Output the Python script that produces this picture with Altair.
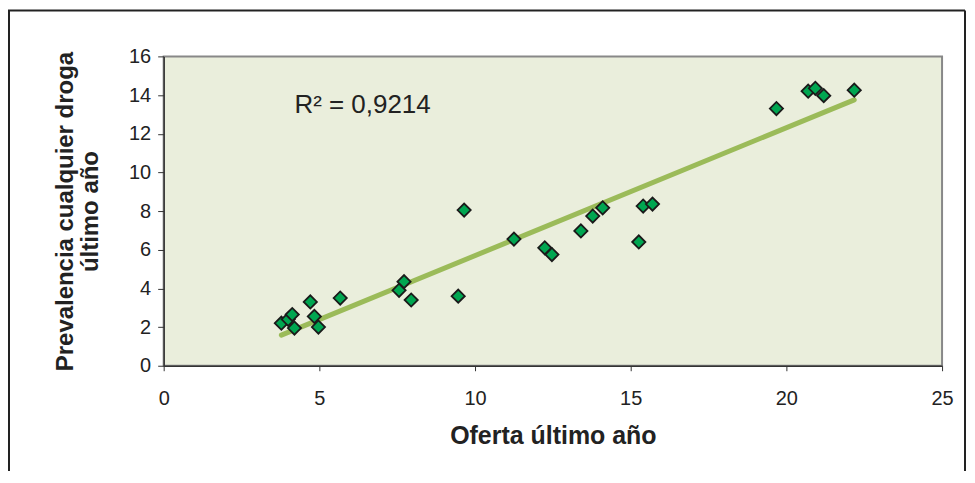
import altair as alt
import pandas as pd

oferta = [3.78, 4.0, 4.13, 4.2, 4.71, 4.84, 4.97, 5.67, 7.56, 7.72, 7.95, 9.46, 9.65,
          11.25, 12.24, 12.47, 13.4, 13.78, 14.1, 15.26, 15.4, 15.7,
          19.68, 20.7, 20.93, 21.2, 22.18]
prevalencia = [2.2, 2.4, 2.65, 1.95, 3.3, 2.55, 2.0, 3.5, 3.9, 4.35, 3.4, 3.6, 8.05,
               6.55, 6.1, 5.75, 6.97, 7.74, 8.17, 6.4, 8.26, 8.36,
               13.3, 14.2, 14.35, 13.97, 14.25]
x_ticks = [0, 5, 10, 15, 20, 25]
y_ticks = [0, 2, 4, 6, 8, 10, 12, 14, 16]
r2_label = ["R² = 0,9214"]

df = pd.DataFrame({"x": oferta, "y": prevalencia})
lab = pd.DataFrame({"x": [4.2], "y": [13.5], "t": r2_label})

W, H = 780, 310
FONT = "Liberation Sans"

xs = alt.Scale(domain=[0, 25], nice=False, zero=True)
ys = alt.Scale(domain=[0, 16], nice=False)

x_axis = alt.Axis(values=x_ticks, tickCount=6, title="Oferta último año",
                  grid=False, labelFontSize=20, labelColor="#222222", labelPadding=18,
                  labelOverlap=False, labelFlush=False,
                  tickSize=5, tickColor="#333333", domainColor="#333333", domainWidth=1.5,
                  titleFontSize=25, titleFontWeight="bold", titleColor="#222222",
                  titlePadding=15, labelFont=FONT, titleFont=FONT)
y_axis = alt.Axis(values=y_ticks, tickCount=9, title=["Prevalencia cualquier droga", "último año"],
                  grid=False, labelFontSize=20, labelColor="#222222", labelPadding=7,
                  labelOverlap=False, labelFlush=False,
                  tickSize=6, tickColor="#333333", domainColor="#333333", domainWidth=1.5,
                  titleFontSize=24, titleFontWeight="bold", titleColor="#222222",
                  titlePadding=26, titleLineHeight=25,
                  labelFont=FONT, titleFont=FONT)

X = alt.X("x:Q", scale=xs, axis=x_axis)
Y = alt.Y("y:Q", scale=ys, axis=y_axis)

base_frame = alt.Chart(pd.DataFrame({"a": [0]}))
frame_top = base_frame.mark_rule(stroke="#222222", strokeWidth=2, clip=False).encode(
    x=alt.value(-156), x2=alt.value(803), y=alt.value(-46))
frame_left = base_frame.mark_rule(stroke="#222222", strokeWidth=2, clip=False).encode(
    x=alt.value(-155), y=alt.value(-46), y2=alt.value(430))
frame_right = base_frame.mark_rule(stroke="#222222", strokeWidth=2, clip=False).encode(
    x=alt.value(803), y=alt.value(-46), y2=alt.value(430))

points = alt.Chart(df).mark_point(
    shape="diamond", filled=True, fill="#00A651", stroke="#1a1a1a",
    strokeWidth=1.8, size=175, opacity=1
).encode(x=X, y=Y)

trend = alt.Chart(df).transform_regression("x", "y").mark_line(
    color="#9BBB59", strokeWidth=5, strokeCap="round"
).encode(x=X, y=Y)

text = alt.Chart(lab).mark_text(
    align="left", baseline="middle", fontSize=26, font=FONT, color="#222222"
).encode(x=X, y=Y, text="t:N")

chart = alt.layer(trend, points, text, frame_top, frame_left, frame_right).properties(
    width=W, height=H,
    autosize=alt.AutoSizeParams(type="none"),
    padding={"left": 156, "top": 48, "right": 25, "bottom": 105},
    background="white"
).configure_view(
    fill="#EAEEDC", stroke="#888888", strokeWidth=2
)

chart.save("out.html", embed_options={"renderer": "svg", "actions": False})
